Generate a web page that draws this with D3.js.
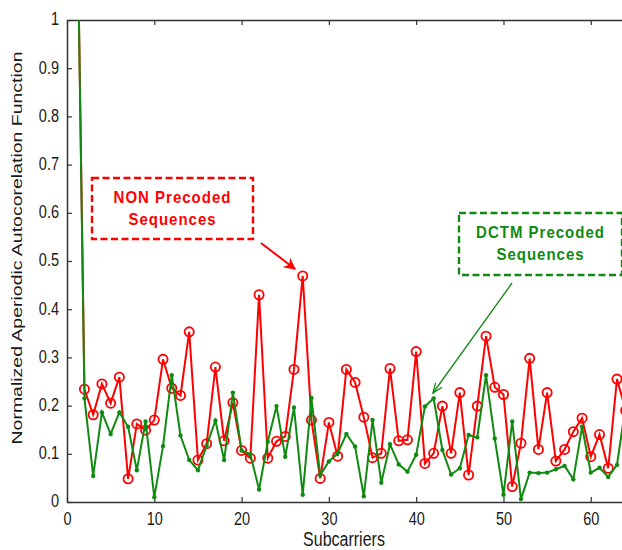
<!DOCTYPE html>
<html>
<head>
<meta charset="utf-8">
<script src="https://cdn.jsdelivr.net/npm/d3@7"></script>
<style>
  body { margin: 0; background: #fff; }
  svg { display: block; font-family: "Liberation Sans", Arial, sans-serif; }
</style>
</head>
<body>
<script>
const subcarriers = d3.range(1, 65);

// normalized aperiodic autocorrelation, first value runs off the top of the plot
const nonPrecoded = [
  1.45, 0.234, 0.181, 0.245, 0.205, 0.259, 0.048, 0.162, 0.149, 0.170,
  0.296, 0.236, 0.221, 0.353, 0.087, 0.121, 0.280, 0.127, 0.206, 0.107,
  0.091, 0.430, 0.091, 0.126, 0.136, 0.275, 0.469, 0.170, 0.049, 0.165,
  0.095, 0.275, 0.248, 0.176, 0.092, 0.101, 0.277, 0.127, 0.129, 0.312,
  0.080, 0.101, 0.199, 0.101, 0.227, 0.056, 0.199, 0.344, 0.238, 0.223,
  0.032, 0.122, 0.298, 0.109, 0.227, 0.085, 0.109, 0.146, 0.174, 0.094,
  0.140, 0.070, 0.255, 0.190
];
const dctmPrecoded = [
  1.45, 0.215, 0.054, 0.186, 0.141, 0.186, 0.156, 0.066, 0.167, 0.010,
  0.116, 0.263, 0.138, 0.087, 0.066, 0.117, 0.169, 0.087, 0.227, 0.107,
  0.099, 0.026, 0.125, 0.199, 0.094, 0.196, 0.015, 0.216, 0.056, 0.084,
  0.101, 0.141, 0.115, 0.012, 0.170, 0.040, 0.120, 0.078, 0.063, 0.098,
  0.198, 0.215, 0.108, 0.057, 0.070, 0.139, 0.134, 0.263, 0.132, 0.015,
  0.167, 0.006, 0.061, 0.060, 0.061, 0.068, 0.075, 0.047, 0.156, 0.061,
  0.071, 0.052, 0.077, 0.200
];
const xTicks = [0, 10, 20, 30, 40, 50, 60];
const yTicks = [0, 0.1, 0.2, 0.3, 0.4, 0.5, 0.6, 0.7, 0.8, 0.9, 1];

const w = 622, h = 550;
const red = "#ff0000", green = "#118a11";
const stretch = 1.3; // text in the source image is stretched vertically

const svg = d3.select("body").append("svg")
  .attr("width", w).attr("height", h);

const x = d3.scaleLinear().domain([0, 64]).range([67, 625.7]);
const y = d3.scaleLinear().domain([0, 1]).range([502, 20]);

svg.append("defs").append("clipPath").attr("id", "plot")
  .append("rect")
  .attr("x", x(0)).attr("y", y(1))
  .attr("width", 622 - x(0)).attr("height", y(0) - y(1));

const defs = svg.select("defs");
defs.append("marker").attr("id", "arrRed")
  .attr("viewBox", "0 0 10 10").attr("refX", 9).attr("refY", 5)
  .attr("markerWidth", 6).attr("markerHeight", 6).attr("orient", "auto")
  .attr("markerUnits", "strokeWidth")
  .append("path").attr("d", "M0,0 L10,5 L0,10 L3,5 Z").attr("fill", red);
defs.append("marker").attr("id", "arrGreen")
  .attr("viewBox", "0 0 10 10").attr("refX", 10).attr("refY", 5)
  .attr("markerWidth", 16).attr("markerHeight", 10).attr("orient", "auto")
  .attr("markerUnits", "userSpaceOnUse")
  .append("path").attr("d", "M0,1 L10,5 L0,9").attr("fill", "none")
  .attr("stroke", green).attr("stroke-width", 1.3);

// axes
const axisColor = "#333";
const gx = svg.append("g").attr("transform", `translate(0,${y(0)})`)
  .call(d3.axisBottom(x).tickValues(xTicks).tickSize(-5).tickSizeOuter(0).tickPadding(0));
const gxTop = svg.append("g").attr("transform", `translate(0,${y(1)})`)
  .call(d3.axisTop(x).tickValues(xTicks).tickSize(-5).tickSizeOuter(0).tickFormat(""));
const gy = svg.append("g").attr("transform", `translate(${x(0)},0)`)
  .call(d3.axisLeft(y).tickValues(yTicks).tickSize(-5).tickSizeOuter(0).tickPadding(0)
    .tickFormat(d3.format("")));

[gx, gxTop, gy].forEach(g => {
  g.select(".domain").attr("stroke", axisColor).attr("stroke-width", 1.5);
  g.selectAll(".tick line").attr("stroke", axisColor).attr("stroke-width", 1.2);
  g.selectAll("text").attr("fill", "#1a1a1a").style("font-size", "14.5px");
});
gx.selectAll(".tick text").attr("y", 0).attr("dy", 0)
  .attr("transform", `translate(0,18) scale(1,${stretch})`)
  .attr("dominant-baseline", "middle");
gy.selectAll(".tick text").attr("x", 0).attr("dy", 0)
  .attr("transform", `translate(-8,0) scale(1,${stretch})`)
  .attr("dominant-baseline", "middle");

svg.append("text")
  .attr("transform", `translate(344,541) scale(1,${stretch})`)
  .attr("text-anchor", "middle").attr("dominant-baseline", "middle")
  .style("font-size", "16px").attr("fill", "#1a1a1a")
  .text("Subcarriers");
svg.append("text")
  .attr("transform", `translate(18,248) rotate(-90) scale(${stretch},1)`)
  .attr("text-anchor", "middle").attr("dominant-baseline", "middle")
  .style("font-size", "15px").attr("fill", "#1a1a1a")
  .text("Normalized Aperiodic Autocorelation Function");

// series
const plot = svg.append("g").attr("clip-path", "url(#plot)");
const line = d3.line().x((d, i) => x(subcarriers[i])).y(d => y(d));

plot.append("path").datum(nonPrecoded)
  .attr("d", line).attr("fill", "none")
  .attr("stroke", red).attr("stroke-width", 2);
plot.selectAll(".nonpt").data(nonPrecoded).enter()
  .append("circle").attr("class", "nonpt")
  .attr("cx", (d, i) => x(subcarriers[i])).attr("cy", d => y(d))
  .attr("r", 4.6).attr("fill", "none")
  .attr("stroke", red).attr("stroke-width", 1.8);

plot.append("path").datum(dctmPrecoded)
  .attr("d", line).attr("fill", "none")
  .attr("stroke", green).attr("stroke-width", 2);
plot.selectAll(".dctpt").data(dctmPrecoded).enter()
  .append("circle").attr("class", "dctpt")
  .attr("cx", (d, i) => x(subcarriers[i])).attr("cy", d => y(d))
  .attr("r", 2.2).attr("fill", green);

// annotations
function callout(bx, by, bw, bh, color, lines) {
  svg.append("rect")
    .attr("x", bx).attr("y", by).attr("width", bw).attr("height", bh)
    .attr("fill", "white").attr("stroke", color)
    .attr("stroke-width", 2.4).attr("stroke-dasharray", "7,3.5");
  lines.forEach((t, i) => {
    svg.append("text")
      .attr("transform", `translate(${bx + bw / 2},${by + 20 + i * 22}) scale(1,1.15)`)
      .attr("text-anchor", "middle").attr("dominant-baseline", "middle")
      .style("font-size", "15px").style("font-weight", "bold")
      .style("letter-spacing", "1px")
      .attr("fill", color).text(t);
  });
}

callout(92, 178, 161, 61, red, ["NON Precoded", "Sequences"]);
svg.append("line")
  .attr("x1", 261).attr("y1", 243).attr("x2", 295).attr("y2", 269)
  .attr("stroke", red).attr("stroke-width", 2)
  .attr("marker-end", "url(#arrRed)");

callout(459, 213, 163, 62, green, ["DCTM Precoded", "Sequences"]);
svg.append("line")
  .attr("x1", 512).attr("y1", 283).attr("x2", 433).attr("y2", 393)
  .attr("stroke", green).attr("stroke-width", 1.3)
  .attr("marker-end", "url(#arrGreen)");
</script>
</body>
</html>
